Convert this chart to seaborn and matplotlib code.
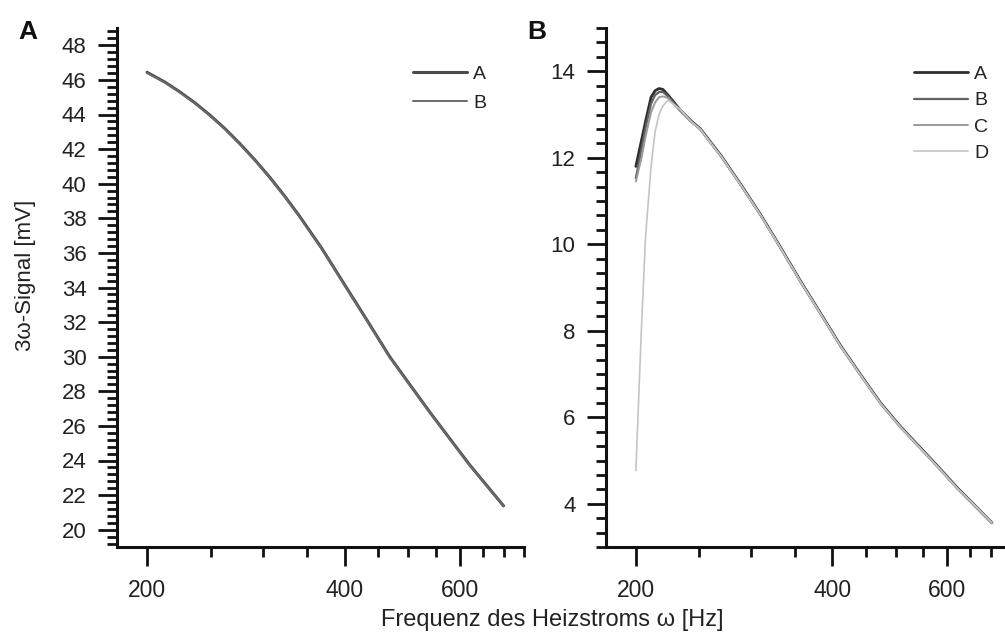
import numpy as np
import pandas as pd
import matplotlib
matplotlib.use("Agg")
import matplotlib.pyplot as plt
import seaborn as sns
from matplotlib.ticker import FixedLocator, NullFormatter, MultipleLocator
from matplotlib.lines import Line2D

# ---------------- data ----------------
freq_a = [200, 213.0, 224.5, 236.6, 249.4, 263.0, 277.0, 292.0, 307.7, 324.4, 341.7, 369.1,
          400, 432.3, 468.3, 502.3, 538.7, 577.7, 619.8, 657.6, 698]
sig_a_A = [46.44, 45.87, 45.30, 44.67, 43.96, 43.17, 42.31, 41.37, 40.36, 39.26, 38.10, 36.26,
           34.15, 32.12, 30.00, 28.40, 26.81, 25.28, 23.75, 22.57, 21.38]
sig_a_B = [46.41, 45.84, 45.27, 44.64, 43.93, 43.14, 42.28, 41.34, 40.33, 39.23, 38.07, 36.23,
           34.12, 32.09, 29.97, 28.37, 26.79, 25.26, 23.73, 22.55, 21.36]

freq_b = [200, 204, 207, 211, 214, 217, 220, 224, 234, 243, 251, 270, 289, 310, 333, 357,
          383, 411, 441, 474, 508, 545, 582, 621, 662, 702]
sig_b_A = [11.80, 12.40, 12.85, 13.40, 13.55, 13.60, 13.58, 13.45, 13.10, 12.85, 12.67, 12.05,
           11.40, 10.70, 9.93, 9.16, 8.42, 7.67, 7.00, 6.33, 5.79, 5.30, 4.84, 4.37, 3.95, 3.56]
sig_b_B = [11.53, 12.20, 12.70, 13.25, 13.45, 13.52, 13.52, 13.42, 13.09, 12.84, 12.66, 12.04,
           11.39, 10.69, 9.92, 9.15, 8.41, 7.66, 6.99, 6.32, 5.78, 5.29, 4.83, 4.36, 3.94, 3.55]
sig_b_C = [11.45, 12.00, 12.50, 13.05, 13.28, 13.40, 13.42, 13.38, 13.07, 12.83, 12.65, 12.03,
           11.38, 10.68, 9.91, 9.14, 8.40, 7.65, 6.98, 6.31, 5.77, 5.28, 4.82, 4.35, 3.94, 3.55]
sig_b_D = [4.77, 8.10, 10.20, 11.80, 12.60, 13.00, 13.20, 13.33, 13.12, 12.84, 12.66, 12.04,
           11.39, 10.69, 9.92, 9.15, 8.41, 7.66, 6.99, 6.32, 5.78, 5.29, 4.83, 4.36, 3.95, 3.56]

labels_a = ["A", "B"]
labels_b = ["A", "B", "C", "D"]
xticks_major = [200, 400, 600]
xticks_minor_a = [250, 300, 350, 450, 500, 550, 650, 700, 750]
xticks_minor_b = [250, 300, 350, 450, 500, 550, 650, 700]

df_a = pd.DataFrame({
    "f": freq_a * 2,
    "s": sig_a_A + sig_a_B,
    "series": ["A"] * len(freq_a) + ["B"] * len(freq_a),
})
df_b = pd.DataFrame({
    "f": freq_b * 4,
    "s": sig_b_A + sig_b_B + sig_b_C + sig_b_D,
    "series": sum([[k] * len(freq_b) for k in labels_b], []),
})

# ---------------- style ----------------
sns.set_theme(style="ticks")
plt.rcParams["font.family"] = ["Liberation Sans", "DejaVu Sans"]
plt.rcParams["text.color"] = "#222222"
plt.rcParams["axes.labelcolor"] = "#222222"
plt.rcParams["lines.solid_capstyle"] = "round"
plt.rcParams["lines.solid_joinstyle"] = "round"

fig = plt.figure(figsize=(10.05, 6.42), dpi=100)
W, H = 1005, 642

def ax_at(l, r, t, b):
    return fig.add_axes([l / W, 1 - b / H, (r - l) / W, (b - t) / H])

axA = ax_at(117, 524, 28, 547)
axB = ax_at(606, 1005, 28, 547)

sns.lineplot(data=df_a, x="f", y="s", hue="series", hue_order=labels_a,
             palette=["#4a4a4a", "#6a6a6a"], ax=axA, legend=False, sort=False)
for ln, lw in zip(axA.lines, [2.2, 1.4]):
    ln.set_linewidth(lw)

sns.lineplot(data=df_b, x="f", y="s", hue="series", hue_order=labels_b,
             palette=["#2e2e2e", "#626262", "#9a9a9a", "#c4c4c4"], ax=axB,
             legend=False, sort=False)
for ln, lw in zip(axB.lines, [2.0, 1.6, 1.4, 1.2]):
    ln.set_linewidth(lw)

for ax, minors, xlim in [(axA, xticks_minor_a, (180, 750)), (axB, xticks_minor_b, (180, 735))]:
    ax.set_xscale("log")
    ax.set_xlim(*xlim)
    ax.xaxis.set_major_locator(FixedLocator(xticks_major))
    ax.set_xticklabels([str(v) for v in xticks_major])
    ax.xaxis.set_minor_locator(FixedLocator(minors))
    ax.xaxis.set_minor_formatter(NullFormatter())
    for s in ["top", "right"]:
        ax.spines[s].set_visible(False)
    for s in ["left", "bottom"]:
        ax.spines[s].set_linewidth(2.2)
        ax.spines[s].set_color("#111111")
    ax.tick_params(which="major", direction="out", length=14, width=2.0, color="#111111",
                   labelsize=16, labelcolor="#222222")
    ax.tick_params(which="minor", direction="out", length=7.5, width=2.0, color="#111111")
    ax.tick_params(axis="x", which="major", pad=9, labelsize=16.5)
    ax.tick_params(axis="y", which="major", pad=8)
    ax.set_xlabel("")
    ax.set_ylabel("")

axA.set_ylim(19, 49)
axA.set_yticks(np.arange(20, 49, 2))
axA.yaxis.set_minor_locator(MultipleLocator(0.4))

axB.set_ylim(3, 15)
axB.set_yticks([4, 6, 8, 10, 12, 14])
axB.yaxis.set_minor_locator(MultipleLocator(1 / 3))

# legends
hA = [Line2D([], [], color=l.get_color(), lw=l.get_linewidth()) for l in axA.lines]
axA.legend(hA, labels_a, loc="upper left", bbox_to_anchor=(0.727, 0.928), frameon=False,
           fontsize=14, handlelength=2.8, handletextpad=0.3, labelspacing=0.58,
           borderpad=0, borderaxespad=0)
hB = [Line2D([], [], color=l.get_color(), lw=l.get_linewidth()) for l in axB.lines]
axB.legend(hB, labels_b, loc="upper left", bbox_to_anchor=(0.772, 0.928), frameon=False,
           fontsize=14, handlelength=2.8, handletextpad=0.3, labelspacing=0.45,
           borderpad=0, borderaxespad=0)

# panel letters and axis titles
fig.text(28 / W, 1 - 32 / H, "A", fontsize=19, fontweight="bold", ha="center", va="center", color="#111111")
fig.text(537 / W, 1 - 32 / H, "B", fontsize=19, fontweight="bold", ha="center", va="center", color="#111111")
fig.text(26 / W, 1 - 275 / H, "3ω-Signal [mV]", rotation=90, fontsize=16, ha="center", va="center")
fig.text(552 / W, 1 - 620 / H, "Frequenz des Heizstroms ω [Hz]", fontsize=17, ha="center", va="center")

fig.savefig("out.png", dpi=100)
